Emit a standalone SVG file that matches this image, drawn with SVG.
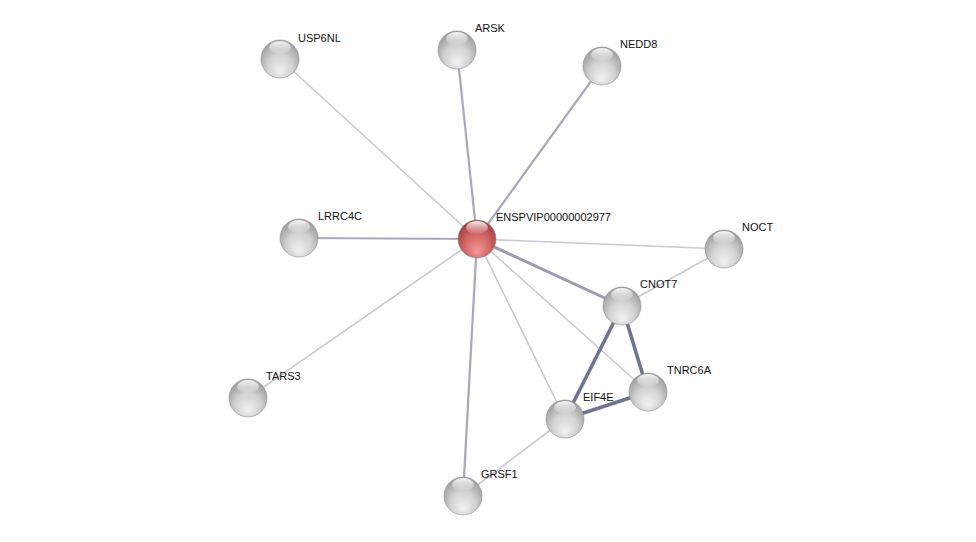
<svg xmlns="http://www.w3.org/2000/svg" width="976" height="542" viewBox="0 0 976 542">
<defs>
<radialGradient id="gg" cx="0.5" cy="0.6" r="0.6" fx="0.5" fy="0.85">
<stop offset="0" stop-color="#f2f2f2"/>
<stop offset="0.55" stop-color="#d2d2d2"/>
<stop offset="1" stop-color="#9a9a9a"/>
</radialGradient>
<radialGradient id="rg" cx="0.5" cy="0.6" r="0.6" fx="0.5" fy="0.85">
<stop offset="0" stop-color="#f49c9c"/>
<stop offset="0.55" stop-color="#d46666"/>
<stop offset="1" stop-color="#a03c3c"/>
</radialGradient>
<linearGradient id="hl" x1="0" y1="0" x2="0" y2="1">
<stop offset="0" stop-color="#fff" stop-opacity="0.9"/>
<stop offset="1" stop-color="#fff" stop-opacity="0.05"/>
</linearGradient>
</defs>
<style>
.e1{stroke:#c9c9d4;stroke-width:1.6;fill:none}
.e2{stroke:#a8a8ba;stroke-width:2.2;fill:none}
.e3{stroke:#9a9cb0;stroke-width:3;fill:none}
.e4{stroke:#6e7590;stroke-width:3.6;fill:none}
.n{stroke:#8e8e8e;stroke-width:0.6}
.t{font-family:"Liberation Sans",Arial,sans-serif;font-size:11px;fill:#111}
.h{fill:url(#hl)}
</style>
<rect width="976" height="542" fill="#fff"/>
<g id="edges">
<line class="e1" x1="477" y1="239" x2="280" y2="59"/>
<line class="e2" x1="477" y1="239" x2="457" y2="50"/>
<line class="e2" x1="477" y1="239" x2="602" y2="66"/>
<line class="e2" x1="477" y1="239" x2="299" y2="238"/>
<line class="e1" x1="477" y1="239" x2="724" y2="249"/>
<line class="e3" x1="477" y1="239" x2="622" y2="306"/>
<line class="e1" x1="477" y1="239" x2="648" y2="392"/>
<line class="e1" x1="477" y1="239" x2="565" y2="419"/>
<line class="e1" x1="477" y1="239" x2="248" y2="398"/>
<line class="e2" x1="477" y1="239" x2="463" y2="496"/>
<line class="e1" x1="622" y1="306" x2="724" y2="249"/>
<line class="e4" x1="622" y1="306" x2="565" y2="419"/>
<line class="e4" x1="622" y1="306" x2="648" y2="392"/>
<line class="e4" x1="565" y1="419" x2="648" y2="392"/>
<line class="e1" x1="565" y1="419" x2="463" y2="496"/>
</g>
<g id="USP6NL"><circle class="n" cx="280" cy="59" r="19" fill="url(#gg)"/><ellipse class="h" cx="280" cy="47.5" rx="11" ry="6.5"/><text class="t" x="298" y="42">USP6NL</text></g>
<g id="ARSK"><circle class="n" cx="457" cy="50" r="19" fill="url(#gg)"/><ellipse class="h" cx="457" cy="38.5" rx="11" ry="6.5"/><text class="t" x="475" y="32">ARSK</text></g>
<g id="NEDD8"><circle class="n" cx="602" cy="66" r="19" fill="url(#gg)"/><ellipse class="h" cx="602" cy="54.5" rx="11" ry="6.5"/><text class="t" x="620" y="48">NEDD8</text></g>
<g id="LRRC4C"><circle class="n" cx="299" cy="238" r="19" fill="url(#gg)"/><ellipse class="h" cx="299" cy="226.5" rx="11" ry="6.5"/><text class="t" x="318" y="220">LRRC4C</text></g>
<g id="ENSPVIP00000002977"><circle class="n" cx="477" cy="239" r="19" fill="url(#rg)" stroke="#8a3030"/><ellipse class="h" cx="477" cy="227.5" rx="11" ry="6.5"/><text class="t" x="496" y="221">ENSPVIP00000002977</text></g>
<g id="NOCT"><circle class="n" cx="724" cy="249" r="19" fill="url(#gg)"/><ellipse class="h" cx="724" cy="237.5" rx="11" ry="6.5"/><text class="t" x="742" y="231">NOCT</text></g>
<g id="CNOT7"><circle class="n" cx="622" cy="306" r="19" fill="url(#gg)"/><ellipse class="h" cx="622" cy="294.5" rx="11" ry="6.5"/><text class="t" x="640" y="288">CNOT7</text></g>
<g id="TNRC6A"><circle class="n" cx="648" cy="392" r="19" fill="url(#gg)"/><ellipse class="h" cx="648" cy="380.5" rx="11" ry="6.5"/><text class="t" x="667" y="374">TNRC6A</text></g>
<g id="EIF4E"><circle class="n" cx="565" cy="419" r="19" fill="url(#gg)"/><ellipse class="h" cx="565" cy="407.5" rx="11" ry="6.5"/><text class="t" x="583" y="401">EIF4E</text></g>
<g id="TARS3"><circle class="n" cx="248" cy="398" r="19" fill="url(#gg)"/><ellipse class="h" cx="248" cy="386.5" rx="11" ry="6.5"/><text class="t" x="266" y="380">TARS3</text></g>
<g id="GRSF1"><circle class="n" cx="463" cy="496" r="19" fill="url(#gg)"/><ellipse class="h" cx="463" cy="484.5" rx="11" ry="6.5"/><text class="t" x="481" y="478">GRSF1</text></g>
</svg>
